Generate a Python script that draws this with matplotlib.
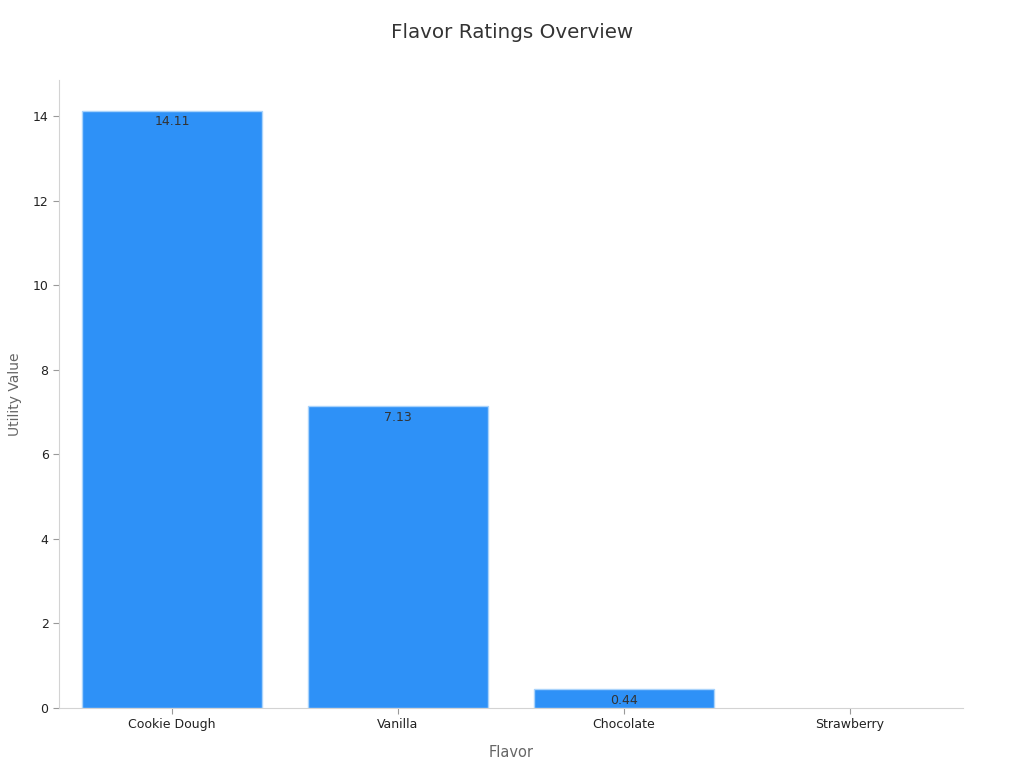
import matplotlib
matplotlib.use("Agg")
import matplotlib.pyplot as plt

flavors = ["Cookie Dough", "Vanilla", "Chocolate", "Strawberry"]
values = [14.11, 7.13, 0.44, 0.0]

fig = plt.figure(figsize=(10.24, 7.68), dpi=100)
ax = fig.add_axes([59/1024, 1-708/768, 904/1024, 628/768])

x = list(range(len(flavors)))
edges = ["#A9D3FB" if v > 0 else "none" for v in values]
bars = ax.bar(x, values, width=0.8, color="#2E91F7", edgecolor=edges, linewidth=1)
for xi, v in zip(x, values):
    if v > 0:
        ax.annotate(f"{v:.2f}", (xi, v), xytext=(0, -3), textcoords="offset points",
                    ha="center", va="top", fontsize=9, color="#333333")

ax.set_xlim(-0.5, 3.5)
ax.set_ylim(0, 14.85)
ax.set_xticks(x)
ax.set_xticklabels(flavors)
ax.set_yticks([0, 2, 4, 6, 8, 10, 12, 14])
ax.tick_params(axis="both", labelsize=9, colors="#999999", labelcolor="#222222", length=4)
for s in ["top", "right"]:
    ax.spines[s].set_visible(False)
for s in ["left", "bottom"]:
    ax.spines[s].set_color("#D3D3D3")
ax.set_xlabel("Flavor", fontsize=10.5, color="#666666", labelpad=10)
ax.set_ylabel("Utility Value", fontsize=10, color="#666666", labelpad=8)
fig.text(0.5, 1-33/768, "Flavor Ratings Overview", ha="center", va="center", fontsize=14.3, color="#333333")

fig.savefig("out.png", dpi=100)
